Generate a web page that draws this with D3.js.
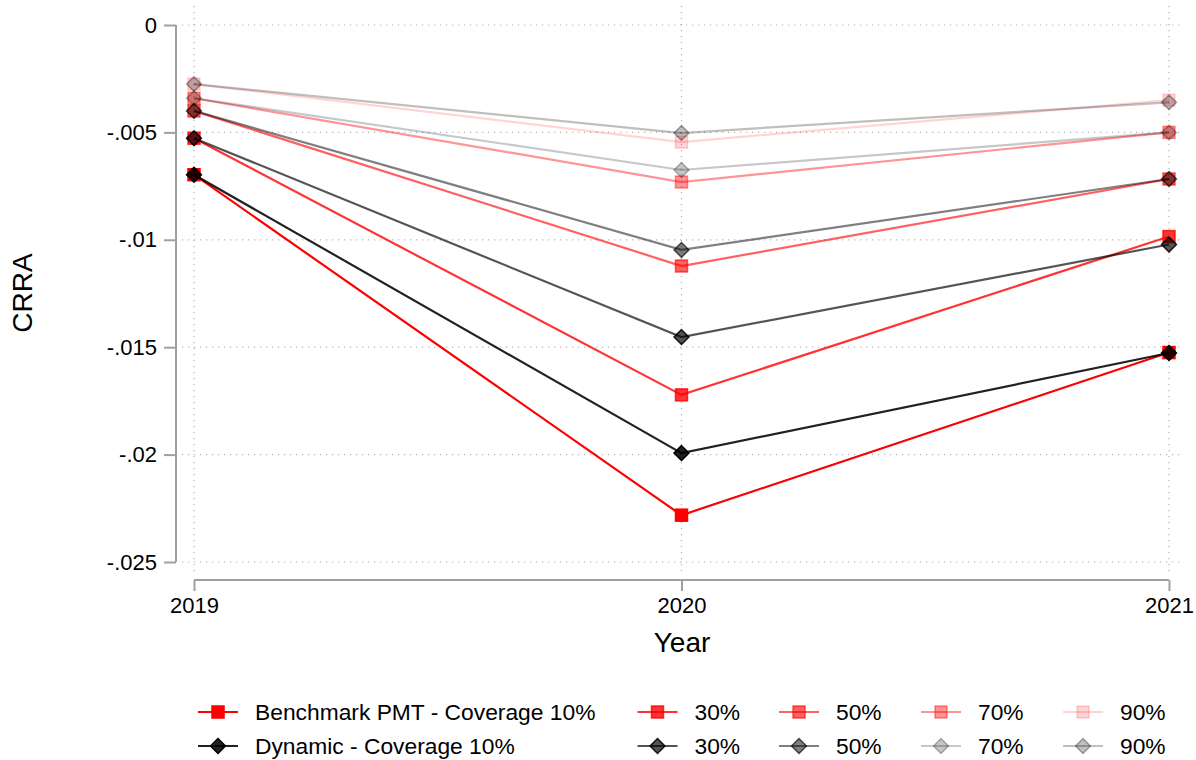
<!DOCTYPE html>
<html>
<head>
<meta charset="utf-8">
<script src="https://cdn.jsdelivr.net/npm/d3@7"></script>
<style>
  html, body { margin: 0; padding: 0; background: #fff; }
  svg { display: block; font-family: "Liberation Sans", Arial, sans-serif; }
</style>
</head>
<body>
<svg id="chart" width="1196" height="760"></svg>
<script>
// ---- data ----
const years = [2019, 2020, 2021];
const coverages = ["10%", "30%", "50%", "70%", "90%"];
const benchmark10 = [-0.00697, -0.02282, -0.01525];
const benchmark30 = [-0.00527, -0.01722, -0.00985];
const benchmark50 = [-0.00400, -0.01122, -0.00717];
const benchmark70 = [-0.00341, -0.00731, -0.00500];
const benchmark90 = [-0.00275, -0.00545, -0.00350];
const dynamic10 = [-0.00697, -0.01993, -0.01527];
const dynamic30 = [-0.00527, -0.01453, -0.01022];
const dynamic50 = [-0.00400, -0.01047, -0.00717];
const dynamic70 = [-0.00341, -0.00675, -0.00500];
const dynamic90 = [-0.00275, -0.00503, -0.00360];
const yTicks = [0, -0.005, -0.01, -0.015, -0.02, -0.025];
const yTickLabels = ["0", "-.005", "-.01", "-.015", "-.02", "-.025"];
const legendLabels = ["Benchmark PMT - Coverage 10%", "30%", "50%", "70%", "90%",
                      "Dynamic - Coverage 10%", "30%", "50%", "70%", "90%"];

// ---- styles ----
const redOpacity = [1, 0.8, 0.62, 0.42, 0.17];
const blackOpacity = [0.87, 0.67, 0.5, 0.22, 0.25];

const series = [
  {name: "b", vals: benchmark10, color: "#ff0000", op: redOpacity[0], shape: "square"},
  {name: "b", vals: benchmark30, color: "#ff0000", op: redOpacity[1], shape: "square"},
  {name: "b", vals: benchmark50, color: "#ff0000", op: redOpacity[2], shape: "square"},
  {name: "b", vals: benchmark70, color: "#ff0000", op: redOpacity[3], shape: "square"},
  {name: "b", vals: benchmark90, color: "#ff0000", op: redOpacity[4], shape: "square"},
  {name: "d", vals: dynamic10, color: "#000000", op: blackOpacity[0], shape: "diamond"},
  {name: "d", vals: dynamic30, color: "#000000", op: blackOpacity[1], shape: "diamond"},
  {name: "d", vals: dynamic50, color: "#000000", op: blackOpacity[2], shape: "diamond"},
  {name: "d", vals: dynamic70, color: "#000000", op: blackOpacity[3], shape: "diamond"},
  {name: "d", vals: dynamic90, color: "#000000", op: blackOpacity[4], shape: "diamond"}
];

const svg = d3.select("#chart");
const x = d3.scalePoint().domain(years).range([194, 1169]);
const y = d3.scaleLinear().domain([-0.025, 0]).range([562, 25]);

// gridlines
const grid = svg.append("g");
grid.selectAll("line.h").data(yTicks).enter().append("line")
  .attr("x1", 182).attr("x2", 1184)
  .attr("y1", d => y(d)).attr("y2", d => y(d))
  .attr("stroke", "#b4b4b4").attr("stroke-width", 1.2)
  .attr("stroke-dasharray", "1.2,4.8");
grid.selectAll("line.v").data(years).enter().append("line")
  .attr("x1", d => x(d)).attr("x2", d => x(d))
  .attr("y1", 6).attr("y2", 573)
  .attr("stroke", "#b4b4b4").attr("stroke-width", 1.2)
  .attr("stroke-dasharray", "1.2,4.8");

// y axis
const yAxis = d3.axisLeft(y).tickValues(yTicks)
  .tickFormat((d, i) => yTickLabels[i]).tickSize(12).tickPadding(7);
const gy = svg.append("g").attr("transform", "translate(176,0)").call(yAxis);
gy.select(".domain").attr("stroke", "#a0a0a0").attr("stroke-width", 2)
  .attr("d", "M0," + y(0) + "V" + y(-0.025));
gy.selectAll(".tick line").attr("stroke", "#a0a0a0").attr("stroke-width", 2);
gy.selectAll(".tick text").attr("font-size", 22).attr("fill", "#000")
  .attr("font-family", "Liberation Sans, Arial, sans-serif");

// x axis
const xAxis = d3.axisBottom(x).tickSize(11).tickPadding(6);
const gx = svg.append("g").attr("transform", "translate(0,580)").call(xAxis);
gx.select(".domain").attr("stroke", "#a0a0a0").attr("stroke-width", 2)
  .attr("d", "M" + x(2019) + ",0H" + x(2021));
gx.selectAll(".tick line").attr("stroke", "#a0a0a0").attr("stroke-width", 2);
gx.selectAll(".tick text").attr("font-size", 22).attr("fill", "#000")
  .attr("font-family", "Liberation Sans, Arial, sans-serif");

// axis titles
svg.append("text").attr("x", 682).attr("y", 652).attr("text-anchor", "middle")
  .attr("font-size", 28).text("Year");
svg.append("text").attr("transform", "translate(32,293) rotate(-90)")
  .attr("text-anchor", "middle").attr("font-size", 28).text("CRRA");

// marker helper
function marker(g, shape, cx, cy, color, op, size) {
  if (shape === "square") {
    g.append("rect").attr("x", cx - size / 2).attr("y", cy - size / 2)
      .attr("width", size).attr("height", size)
      .attr("fill", color).attr("fill-opacity", op)
      .attr("stroke", color).attr("stroke-opacity", op).attr("stroke-width", 1.5);
  } else {
    const r = size * 0.62;
    g.append("path")
      .attr("d", `M${cx},${cy - r}L${cx + r},${cy}L${cx},${cy + r}L${cx - r},${cy}Z`)
      .attr("fill", color).attr("fill-opacity", op)
      .attr("stroke", color).attr("stroke-opacity", Math.min(1, op * 1.3)).attr("stroke-width", 1.5);
  }
}

// lines + markers
const line = d3.line().x((d, i) => x(years[i])).y(d => y(d));
const plot = svg.append("g");
series.forEach(s => {
  const g = plot.append("g");
  g.append("path").datum(s.vals).attr("d", line)
    .attr("fill", "none").attr("stroke", s.color)
    .attr("stroke-opacity", s.op).attr("stroke-width", 2.2);
  s.vals.forEach((v, i) => marker(g, s.shape, x(years[i]), y(v), s.color, s.op, 12));
});

// legend
const legX = [218, 657.5, 799, 941, 1083];
const legY = [712, 746];
const leg = svg.append("g");
series.forEach((s, k) => {
  const row = k < 5 ? 0 : 1;
  const col = k % 5;
  const cx = legX[col], cy = legY[row];
  const g = leg.append("g");
  g.append("line").attr("x1", cx - 20).attr("x2", cx + 20)
    .attr("y1", cy).attr("y2", cy)
    .attr("stroke", s.color).attr("stroke-opacity", s.op).attr("stroke-width", 2.2);
  marker(g, s.shape, cx, cy, s.color, s.op, 12);
  g.append("text").attr("x", cx + 37).attr("y", cy).attr("dy", "0.36em")
    .attr("font-size", 22.8).attr("fill", "#000").text(legendLabels[k]);
});
</script>
</body>
</html>
